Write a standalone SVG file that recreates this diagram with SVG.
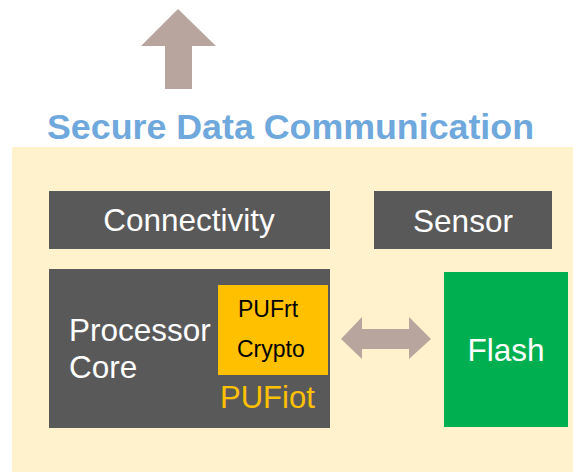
<svg xmlns="http://www.w3.org/2000/svg" width="573" height="472" viewBox="0 0 573 472">
<style>
.dark{fill:#595959}
.wt{fill:#ffffff;font-family:"Liberation Sans",Arial,sans-serif;font-size:31.5px}
.bk{fill:#000000;font-family:"Liberation Sans",Arial,sans-serif;font-size:23px}
.arr{fill:#b8a69e}
</style>
<rect x="0" y="0" width="573" height="472" fill="#ffffff"/>
<rect x="12" y="147" width="561" height="325" fill="#fff2cc"/>
<g id="connectors">
<polygon class="arr" points="178,9 216,46 192,46 192,89 165,89 165,46 141,46"/>
<polygon class="arr" points="341,339 362,317 362,329 409,329 409,317 431,339 409,359 409,349 362,349 362,359"/>
</g>
<g id="title">
<text x="47" y="139" font-family="Liberation Sans,Arial,sans-serif" font-weight="bold" font-size="35.5" fill="#6fa8dc" textLength="487" lengthAdjust="spacingAndGlyphs">Secure Data Communication</text>
</g>
<g id="connectivity">
<rect class="dark" x="49" y="191" width="281" height="58"/>
<text class="wt" x="189" y="231" text-anchor="middle">Connectivity</text>
</g>
<g id="sensor">
<rect class="dark" x="374" y="191" width="178" height="58"/>
<text class="wt" x="463" y="232" text-anchor="middle">Sensor</text>
</g>
<g id="processor">
<rect class="dark" x="49" y="269" width="281" height="159"/>
<text class="wt" x="69" y="341">Processor</text>
<text class="wt" x="69" y="378">Core</text>
</g>
<g id="pufrt">
<rect x="218" y="285" width="110" height="90" fill="#ffc000"/>
<text class="bk" x="238" y="317">PUFrt</text>
<text class="bk" x="237" y="357">Crypto</text>
</g>
<g id="pufiot">
<text x="220" y="408" font-family="Liberation Sans,Arial,sans-serif" font-size="31" fill="#ffc000">PUFiot</text>
</g>
<g id="flash">
<rect x="444" y="272" width="124" height="155" fill="#00b050"/>
<text class="wt" x="506" y="361" text-anchor="middle">Flash</text>
</g>
</svg>
